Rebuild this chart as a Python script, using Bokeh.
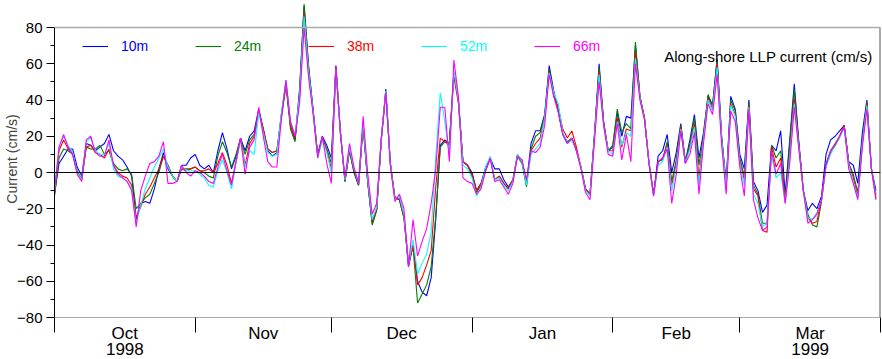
import numpy as np
import pandas as pd
from bokeh.plotting import figure
from bokeh.models import (Range1d, FixedTicker, Span, Legend, LegendItem, Label)
from bokeh.embed import file_html
from bokeh.resources import INLINE

# ---------------- data (daily values from 1 Oct 1998) ----------------
start_date = "1998-10-01"
series_labels = ["10m", "24m", "38m", "52m", "66m"]
series_colors = ["#0000ff", "#008000", "#ff0000", "#00ffff", "#ff00ff"]

v10m = [-12, 5, 9, 13, 13, 3, -2, 16, 15, 12,
        14, 16, 21, 12, 9, 7, 3, -2, -26, -17,
        -16, -17, -9, 2, 11, 2, -2, -5, 4, 4,
        8, 10, 4, 2, 4, 0, 12, 22, 13, 2,
        9, 19, 12, 20, 23, 35, 24, 12, 9, 11,
        32, 50, 26, 18, 46, 92, 58, 34, 10, 20,
        15, 8, 59, 22, -5, 12, 0, -7, 26, -5,
        -28, -20, 18, 46, 5, -14, -15, -25, -52, -40,
        -60, -66, -68, -58, -26, 15, 18, 16, 55, 40,
        6, 4, 0, -10, -6, 3, 8, 2, 2, -4,
        -8, -4, 9, 7, -6, 16, 23, 23, 32, 59,
        45, 34, 21, 16, 19, 12, 3, -9, -12, 22,
        60, 28, 12, 14, 33, 20, 31, 30, 70, 42,
        30, 5, -12, 9, 12, 21, 0, 11, 27, 6,
        18, 32, 8, 22, 42, 37, 63, 20, -6, 42,
        35, 10, 2, 40, -5, -10, -22, -18, 15, 12,
        23, -12, 18, 49, 17, -10, -21, -17, -20, -13,
        10, 18, 20, 23, 26, 6, 4, -6, 22, 40,
        2, -10]

v24m = [-13, 8, 13, 12, 10, 1, -4, 14, 13, 13,
        15, 10, 12, 5, 2, 1, 2, -1, -20, -17,
        -14, -12, -6, 0, 9, 4, -2, -5, 2, 2,
        2, 3, 1, 0, -2, -3, 9, 17, 11, 3,
        10, 19, 10, 18, 21, 34, 24, 13, 11, 12,
        30, 48, 24, 17, 44, 93, 58, 34, 9, 19,
        13, 5, 58, 22, -5, 12, 0, -7, 26, -5,
        -29, -21, 18, 45, 5, -14, -15, -25, -50, -41,
        -72, -67, -62, -52, -24, 14, 17, 16, 55, 40,
        6, 4, -2, -11, -7, 1, 8, -4, -2, -6,
        -9, -5, 9, 5, -8, 13, 20, 22, 31, 57,
        44, 34, 21, 17, 19, 12, 3, -9, -12, 21,
        58, 27, 12, 15, 35, 22, 27, 24, 72, 42,
        30, 5, -12, 6, 7, 17, -5, 7, 26, 6,
        16, 30, 4, 20, 43, 37, 62, 19, -7, 40,
        34, 8, -2, 39, -7, -12, -28, -28, 15, 8,
        12, -15, 15, 46, 16, -10, -23, -29, -30, -16,
        5, 12, 16, 20, 26, 5, -1, -11, 18, 39,
        2, -12]

v38m = [-11, 12, 18, 13, 10, 0, -4, 14, 15, 11,
        10, 8, 13, 4, 0, -2, -3, -7, -25, -19,
        -12, -8, -3, 2, 9, 4, -2, -5, 2, 1,
        2, 3, 1, 1, 2, 0, 5, 11, 4, -6,
        6, 19, 4, 16, 20, 34, 24, 13, 11, 12,
        32, 49, 26, 19, 42, 88, 55, 33, 9, 19,
        12, 2, 58, 22, -4, 13, 1, -6, 27, -4,
        -27, -20, 18, 44, 5, -14, -14, -24, -51, -40,
        -62, -58, -51, -43, -8, 19, 17, 15, 53, 38,
        6, 4, -1, -10, -6, 2, 8, -4, -2, -6,
        -9, -4, 10, 6, -6, 12, 16, 19, 30, 56,
        42, 36, 24, 19, 23, 14, 3, -9, -12, 21,
        56, 27, 12, 12, 30, 14, 24, 23, 66, 41,
        30, 5, -12, 6, 8, 15, -7, 5, 25, 5,
        14, 27, -3, 19, 41, 35, 60, 18, -7, 38,
        32, 6, -4, 37, -9, -13, -32, -33, 14, 3,
        8, -16, 10, 41, 15, -10, -25, -28, -27, -15,
        4, 11, 15, 20, 26, 5, -3, -13, 16, 38,
        2, -15]

v52m = [-10, 14, 20, 15, 11, 0, -4, 17, 19, 12,
        10, 10, 16, 2, -2, -3, -5, -9, -28, -18,
        -9, -3, 3, 8, 13, 3, -2, -5, 3, 1,
        1, 1, -1, -3, -7, -8, 1, 7, 0, -9,
        5, 18, 3, 12, 10, 33, 22, 11, 9, 10,
        33, 51, 28, 21, 42, 86, 55, 33, 8, 18,
        11, 0, 57, 22, -4, 14, 2, -6, 28, -3,
        -26, -19, 19, 45, 5, -15, -13, -23, -51, -37,
        -56, -50, -45, -33, 8, 44, 28, 10, 56, 40,
        4, 2, -3, -13, -8, 3, 9, -4, -3, -7,
        -10, -5, 10, 6, -7, 10, 13, 16, 30, 55,
        44, 38, 22, 16, 18, 12, 3, -10, -13, 20,
        54, 26, 12, 10, 28, 15, 22, 20, 63, 41,
        29, 5, -13, 4, 6, 14, -10, 3, 24, 5,
        13, 25, -7, 18, 40, 34, 58, 18, -8, 37,
        31, 5, -7, 36, -12, -17, -30, -28, 10, -3,
        0, -17, 8, 38, 14, -10, -25, -26, -22, -15,
        3, 10, 15, 19, 25, 4, -5, -14, 16, 37,
        2, -13]

v66m = [-10, 14, 21, 14, 10, -1, -5, 18, 20, 11,
        9, 9, 18, 4, -1, -3, -5, -10, -30, -10,
        -2, 5, 6, 9, 17, -6, -6, -5, 4, 0,
        -2, 1, 0, -2, -5, -6, 3, 10, 1, -7,
        6, 19, -1, 14, 18, 36, 20, 6, 3, 3,
        30, 51, 28, 20, 38, 80, 52, 32, 8, 20,
        5, -6, 58, 22, -3, 16, 3, -6, 31, 0,
        -23, -17, 19, 44, 4, -16, -12, -20, -52, -26,
        -46, -38, -31, -17, 2, 36, 36, 6, 62, 42,
        -3, -5, -6, -12, -9, 1, 8, -5, -4, -8,
        -12, -6, 9, 7, -4, 12, 11, 14, 26, 54,
        42, 33, 21, 16, 19, 12, 2, -11, -15, 18,
        50, 26, 10, 9, 27, 7, 21, 6, 60, 40,
        29, 5, -13, 6, 8, 13, -17, -1, 23, 5,
        10, 22, -12, 16, 38, 32, 54, 15, -12, 34,
        28, 3, -13, 35, -15, -25, -32, -30, 12, -1,
        5, -17, 5, 36, 13, -10, -28, -26, -23, -15,
        4, 12, 15, 20, 25, 2, -6, -15, 14, 35,
        2, -14]

month_starts = ["1998-10-01", "1998-11-01", "1998-12-01", "1999-01-01",
                "1999-02-01", "1999-03-01", "1999-04-01"]
month_labels = ["Oct\n1998", "Nov", "Dec", "Jan", "Feb", "Mar\n1999"]
y_ticks = [-80, -60, -40, -20, 0, 20, 40, 60, 80]
y_minor = [-70, -50, -30, -10, 10, 30, 50, 70]

# ---------------- derived ----------------
t0 = pd.Timestamp(start_date)
series = [v10m, v24m, v38m, v52m, v66m]
days = np.arange(len(v10m))
starts = [(pd.Timestamp(d) - t0).days for d in month_starts]
mids = [(a + b) / 2 for a, b in zip(starts[:-1], starts[1:])]

FONT = "Liberation Sans"

p = figure(frame_width=826, frame_height=317, output_backend="svg",
           toolbar_location=None,
           x_range=Range1d(starts[0], starts[-1]), y_range=Range1d(-80, 94.9),
           min_border_left=54, min_border_right=2, min_border_top=0,
           min_border_bottom=42)
p.grid.visible = False
p.outline_line_color = None

renderers = []
for vals, col in zip(series, series_colors):
    r = p.line(days, vals, line_color=col, line_width=1.1)
    renderers.append(r)

# zero line, top border, right border
p.add_layout(Span(location=0, dimension="width", line_color="black", line_width=1))
p.add_layout(Span(location=y_ticks[-1], dimension="width", line_color="#aaaaaa", line_width=1.5))
p.segment(x0=[starts[-1]], y0=[y_ticks[0]], x1=[starts[-1]], y1=[y_ticks[-1]],
          line_color="#555555", line_width=2)

# y axis
ya = p.yaxis[0]
ya.ticker = FixedTicker(ticks=y_ticks, minor_ticks=y_minor)
ya.bounds = (y_ticks[0], y_ticks[-1])
ya.major_tick_out = 8
ya.major_tick_in = 0
ya.minor_tick_out = 4
ya.minor_tick_in = 0
ya.major_label_standoff = 4
ya.major_label_text_font = FONT
ya.major_label_text_font_size = "15px"
ya.major_label_text_color = "black"
ya.axis_label = "Current (cm/s)"
ya.axis_label_text_font = FONT
ya.axis_label_text_font_size = "14px"
ya.axis_label_text_font_style = "normal"
ya.axis_label_standoff = -6
ya.axis_line_color = "black"

# x axis
xa = p.xaxis[0]
xa.ticker = FixedTicker(ticks=mids, minor_ticks=starts)
xa.major_label_overrides = {m: lab for m, lab in zip(mids, month_labels)}
xa.major_tick_out = 0
xa.major_tick_in = 0
xa.minor_tick_out = 15
xa.minor_tick_in = 0
xa.minor_tick_line_color = "black"
xa.major_label_standoff = -9
xa.major_label_text_font = FONT
xa.major_label_text_font_size = "17px"
xa.major_label_text_color = "black"
xa.major_label_text_line_height = 0.85
xa.axis_line_color = "#aaaaaa"

# legend: one small legend per series so each label has its own colour
legend_x = [28, 141, 254, 367, 480]
for r, lab, col, lx in zip(renderers, series_labels, series_colors, legend_x):
    leg = Legend(items=[LegendItem(label=lab, renderers=[r])], location=(lx, 263),
                 orientation="horizontal", glyph_width=26, glyph_height=16,
                 label_height=16, label_standoff=13, padding=0, margin=0, spacing=0,
                 border_line_color=None, background_fill_alpha=0,
                 label_text_color=col, label_text_font=FONT,
                 label_text_font_size="14px")
    p.add_layout(leg, "center")

p.add_layout(Label(x=180.25, y=64, text="Along-shore LLP current (cm/s)",
                   text_align="right", text_baseline="middle", text_font=FONT,
                   text_font_size="15px", text_color="black"))

open("out.html", "w").write(file_html(p, INLINE))
